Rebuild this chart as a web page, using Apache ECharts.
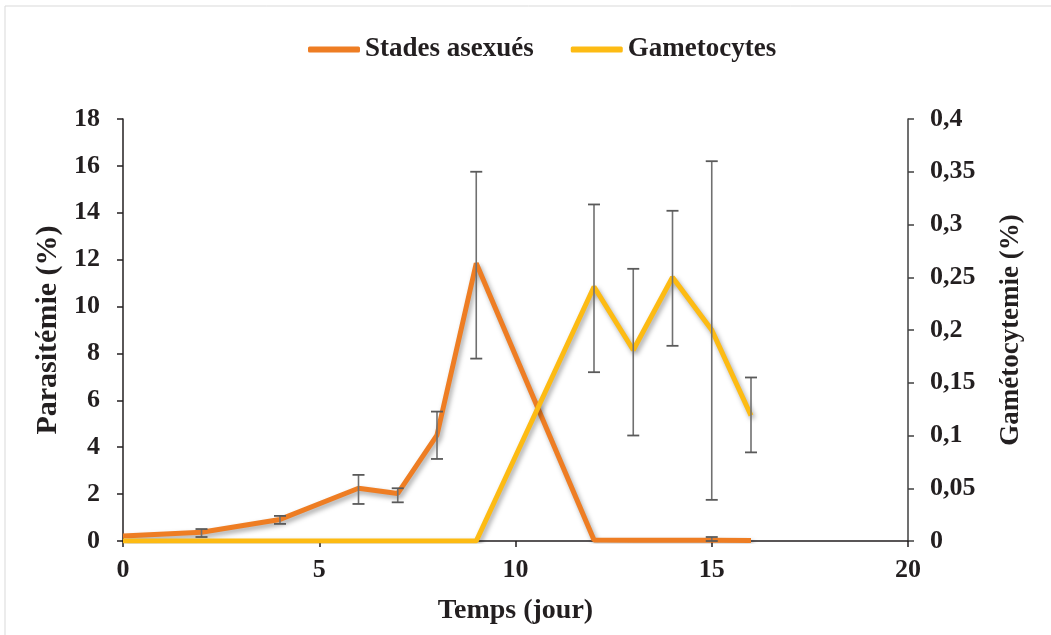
<!DOCTYPE html>
<html>
<head>
<meta charset="utf-8">
<script src="https://cdn.jsdelivr.net/npm/echarts@6/dist/echarts.min.js"></script>
<style>html,body{margin:0;padding:0;background:#fff}#c{width:1051px;height:635px}</style>
</head>
<body>
<div id="c"></div>
<script>
const days = [0, 2, 4, 6, 7, 8, 9, 12, 13, 14, 15, 16];
const asexual = [0.21, 0.37, 0.92, 2.25, 2.03, 4.52, 11.85, 0.04, 0.03, 0.03, 0.03, 0.02];
const asexualLow = [null, 0.17, 0.73, 1.58, 1.65, 3.5, 7.78, null, null, null, 0.0, null];
const asexualHigh = [null, 0.51, 1.07, 2.82, 2.25, 5.52, 15.75, null, null, null, 0.17, null];
const gameto = [0, 0, 0, 0, 0, 0, 0, 0.241, 0.181, 0.25, 0.2, 0.119];
const gametoLow = [null, null, null, null, null, null, null, 0.16, 0.1, 0.185, 0.039, 0.084];
const gametoHigh = [null, null, null, null, null, null, null, 0.319, 0.258, 0.313, 0.36, 0.155];

const FONT = '"Liberation Serif", "Times New Roman", serif';
const TXT = '#231f20';
const ORANGE = '#EE7D23';
const YELLOW = '#FDBB13';
const chart = echarts.init(document.getElementById('c'));

function errData(lo, hi) {
  const out = [];
  days.forEach((d, i) => { if (lo[i] !== null) out.push([d, lo[i], hi[i]]); });
  return out;
}
function renderErr(params, api) {
  const x = api.value(0);
  const lo = api.coord([x, api.value(1)]);
  const hi = api.coord([x, api.value(2)]);
  const w = 6;
  const st = { stroke: '#5a5a5a', lineWidth: 1.8 };
  return {
    type: 'group',
    children: [
      { type: 'line', shape: { x1: lo[0], y1: lo[1], x2: hi[0], y2: hi[1] }, style: { stroke: '#707070', lineWidth: 1.6 } },
      { type: 'line', shape: { x1: hi[0] - w, y1: hi[1], x2: hi[0] + w, y2: hi[1] }, style: st },
      { type: 'line', shape: { x1: lo[0] - w, y1: lo[1], x2: lo[0] + w, y2: lo[1] }, style: st }
    ]
  };
}
const shadow = { shadowColor: 'rgba(0,0,0,0.35)', shadowBlur: 5, shadowOffsetX: 2, shadowOffsetY: 3 };
const lbl = { fontFamily: FONT, fontWeight: 'bold', fontSize: 26, color: TXT };

chart.setOption({
  animation: false,
  backgroundColor: '#fff',
  graphic: [{ type: 'rect', shape: { x: 5, y: 6, width: 1060, height: 640 }, style: { fill: 'none', stroke: '#d9d9d9', lineWidth: 1 }, silent: true }],
  legend: {
    top: 31, left: 303,
    itemWidth: 52, itemHeight: 6, itemGap: 37,
    icon: 'roundRect',
    textStyle: { fontFamily: FONT, fontWeight: 'bold', fontSize: 27, color: TXT },
    data: ['Stades asexués', 'Gametocytes']
  },
  grid: { left: 123, right: 143, top: 119, bottom: 94 },
  xAxis: {
    type: 'value', min: 0, max: 20, interval: 5,
    name: 'Temps (jour)', nameLocation: 'middle', nameGap: 56,
    nameTextStyle: { fontFamily: FONT, fontWeight: 'bold', fontSize: 28, color: TXT },
    axisLine: { lineStyle: { color: TXT, width: 1.5 } },
    axisTick: { show: true, length: 6, lineStyle: { color: TXT, width: 1.5 } },
    axisLabel: Object.assign({ margin: 16 }, lbl),
    splitLine: { show: false }
  },
  yAxis: [{
    type: 'value', min: 0, max: 18, interval: 2, position: 'left',
    name: 'Parasitémie (%)', nameLocation: 'middle', nameGap: 58, nameRotate: 90,
    nameTextStyle: { fontFamily: FONT, fontWeight: 'bold', fontSize: 30, color: TXT },
    axisLine: { show: true, lineStyle: { color: TXT, width: 1.5 } },
    axisTick: { show: true, length: 6, lineStyle: { color: TXT, width: 1.5 } },
    axisLabel: Object.assign({ margin: 23 }, lbl),
    splitLine: { show: false }
  }, {
    type: 'value', min: 0, max: 0.4, interval: 0.05, position: 'right',
    name: 'Gamétocytemie (%)', nameLocation: 'middle', nameGap: 90, nameRotate: 90,
    nameTextStyle: { fontFamily: FONT, fontWeight: 'bold', fontSize: 27, color: TXT },
    axisLine: { show: true, lineStyle: { color: '#404040', width: 1.5 } },
    axisTick: { show: true, length: 6, lineStyle: { color: '#404040', width: 1.5 } },
    axisLabel: Object.assign({
      margin: 22,
      formatter: v => String(Math.round(v * 100) / 100).replace('.', ',')
    }, lbl),
    splitLine: { show: false }
  }],
  series: [
    {
      name: 'Stades asexués', type: 'line', yAxisIndex: 0,
      data: days.map((d, i) => [d, asexual[i]]),
      showSymbol: false, symbol: 'none', color: ORANGE,
      lineStyle: Object.assign({ width: 5, color: ORANGE }, shadow), z: 3
    },
    {
      name: 'Gametocytes', type: 'line', yAxisIndex: 1,
      data: days.map((d, i) => [d, gameto[i]]),
      showSymbol: false, symbol: 'none', color: YELLOW,
      lineStyle: Object.assign({ width: 5, color: YELLOW }, shadow), z: 4
    },
    {
      type: 'custom', yAxisIndex: 0, renderItem: renderErr,
      data: errData(asexualLow, asexualHigh), encode: { x: 0, y: [1, 2] }, z: 5, silent: true
    },
    {
      type: 'custom', yAxisIndex: 1, renderItem: renderErr,
      data: errData(gametoLow, gametoHigh), encode: { x: 0, y: [1, 2] }, z: 5, silent: true
    }
  ]
});
</script>
</body>
</html>
